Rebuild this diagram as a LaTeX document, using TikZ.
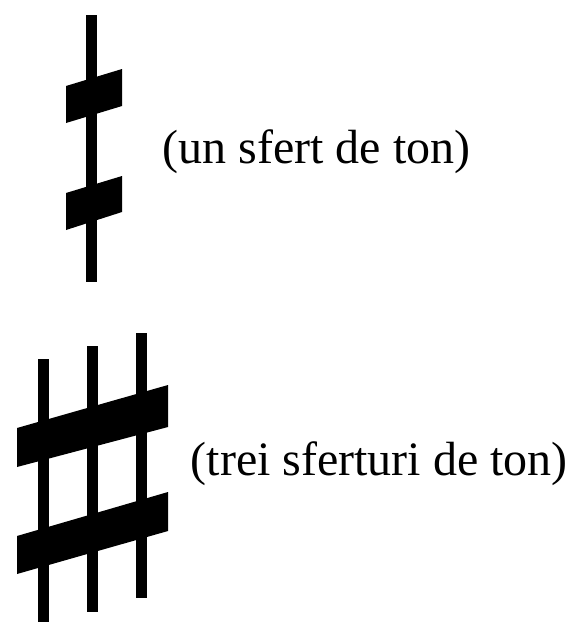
\documentclass[tikz,border=0pt]{standalone}
\usepackage{fontspec}
\setmainfont{Liberation Serif}
\begin{document}
\begin{tikzpicture}[x=1pt,y=-1pt,
  stem/.style={fill=black},
  bar/.style={fill=black},
  lbl/.style={anchor=base west,inner sep=0pt,font=\fontsize{48}{58}\selectfont}]
\useasboundingbox (0,0) rectangle (572,622);
% quarter-tone sharp
\fill[stem] (86,15) rectangle (97,282);
\fill[bar] (66,86) -- (122,69) -- (122,106) -- (66,123) -- cycle;
\fill[bar] (66,193) -- (122,176) -- (122,212) -- (66,230) -- cycle;
\node[lbl] (t1) at (162.5,163) {(un sfert de ton)};
% three-quarter-tone sharp
\fill[stem] (37.5,359) rectangle (48.5,622);
\fill[stem] (87,346) rectangle (98,612);
\fill[stem] (136,333) rectangle (147,598);
\fill[bar] (17,428) -- (168,385) -- (168,427) -- (17,467) -- cycle;
\fill[bar] (17,536) -- (168,492) -- (168,531) -- (17,574) -- cycle;
\node[lbl] (t2) at (190.5,475) {(trei sferturi de ton)};
\end{tikzpicture}
\end{document}
